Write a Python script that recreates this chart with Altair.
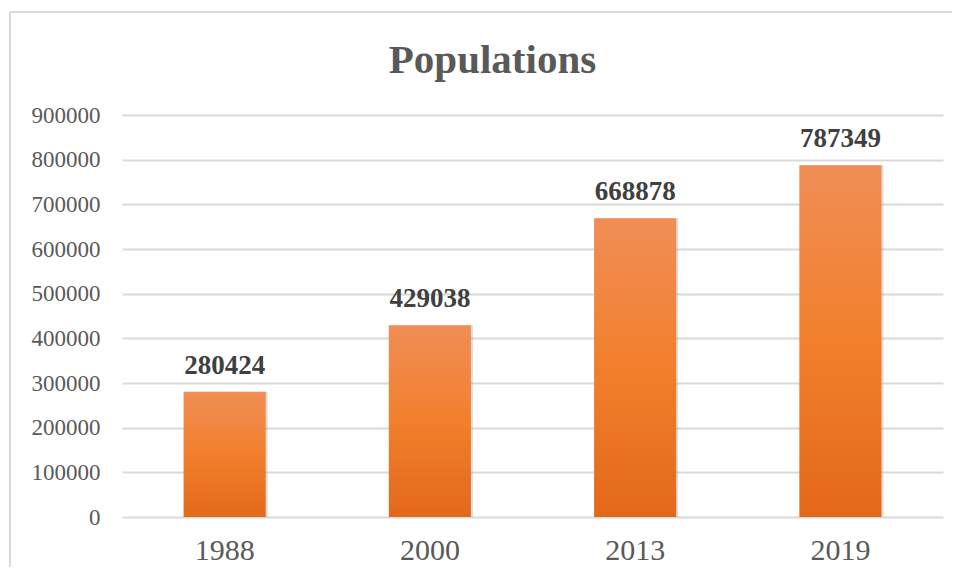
import altair as alt
import pandas as pd

years = ["1988", "2000", "2013", "2019"]
populations = [280424, 429038, 668878, 787349]

df = pd.DataFrame({"year": years, "pop": populations})

SERIF = "Liberation Serif"
GRAY = "#595959"

x = alt.X("year:N", sort=years, title=None,
          scale=alt.Scale(paddingInner=0.6, paddingOuter=0.3),
          axis=alt.Axis(labelAngle=0, labelFont=SERIF, labelFontSize=30, labelColor=GRAY,
                        labelPadding=18, ticks=False, domain=False, grid=False))
y = alt.Y("pop:Q", title=None,
          scale=alt.Scale(domain=[0, 900000], nice=False),
          axis=alt.Axis(values=list(range(0, 900001, 100000)), format="d",
                        labelFont=SERIF, labelFontSize=23, labelColor=GRAY,
                        labelPadding=22, ticks=False, domain=False,
                        grid=True, gridColor="#d9d9d9", gridWidth=1.8))

base = alt.Chart(df)

shadow = base.mark_bar(color="#9a9a9a", opacity=0.35, xOffset=2, yOffset=0).encode(x=x, y=y)

bars = base.mark_bar(
    color=alt.Gradient(
        gradient="linear", x1=0, x2=0, y1=0, y2=1,
        stops=[alt.GradientStop(offset=0, color="#F08E56"),
               alt.GradientStop(offset=0.5, color="#F27F2C"),
               alt.GradientStop(offset=1, color="#E2691A")]
    )
).encode(x=x, y=y)

labels = base.mark_text(font=SERIF, fontSize=27, fontWeight="bold", color="#404040",
                        baseline="alphabetic", dy=-18).encode(
    x=x, y=y, text=alt.Text("pop:Q", format="d"))

border = alt.Chart(pd.DataFrame({"a": [0]})).mark_rule(color="#d9d9d9", strokeWidth=2).encode(
    x=alt.value(-112), y=alt.value(-103), y2=alt.value(600))
border_top = alt.Chart(pd.DataFrame({"a": [0]})).mark_rule(color="#d9d9d9", strokeWidth=2).encode(
    x=alt.value(-112), x2=alt.value(900), y=alt.value(-103))

chart = alt.layer(border, border_top, shadow, bars, labels).properties(
    width=821, height=402,
    autosize="none",
    padding={"left": 114, "top": 107, "right": 9, "bottom": 50},
    title=alt.TitleParams("Populations", font=SERIF, fontSize=41, fontWeight="bold",
                          color=GRAY, anchor="middle", frame="group", offset=0,
                          dx=-40, dy=71),
).configure_view(stroke=None)

chart.save("out.html", embed_options={"renderer": "svg", "actions": False})
